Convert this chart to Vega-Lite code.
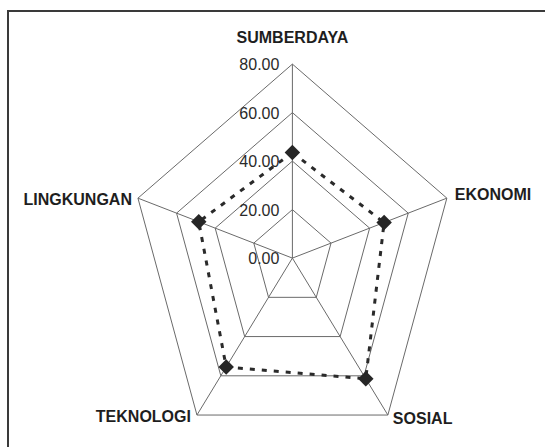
{
  "$schema": "https://vega.github.io/schema/vega-lite/v6.json",
  "width": 541,
  "height": 440,
  "autosize": {"type": "none"},
  "padding": {"left": 8, "top": 11, "right": -4, "bottom": -4},
  "background": "white",
  "config": {"view": {"stroke": "#3a3a3a", "strokeWidth": 2}},
  "datasets": {
    "scores": [
      {"aspek": "SUMBERDAYA", "urut": 0, "nilai": 43.5},
      {"aspek": "EKONOMI", "urut": 1, "nilai": 47.5},
      {"aspek": "SOSIAL", "urut": 2, "nilai": 61.5},
      {"aspek": "TEKNOLOGI", "urut": 3, "nilai": 55.5},
      {"aspek": "LINGKUNGAN", "urut": 4, "nilai": 48.5}
    ],
    "grid": [
      {"ring": 20, "urut": 0}, {"ring": 20, "urut": 1}, {"ring": 20, "urut": 2}, {"ring": 20, "urut": 3}, {"ring": 20, "urut": 4},
      {"ring": 40, "urut": 0}, {"ring": 40, "urut": 1}, {"ring": 40, "urut": 2}, {"ring": 40, "urut": 3}, {"ring": 40, "urut": 4},
      {"ring": 60, "urut": 0}, {"ring": 60, "urut": 1}, {"ring": 60, "urut": 2}, {"ring": 60, "urut": 3}, {"ring": 60, "urut": 4},
      {"ring": 80, "urut": 0}, {"ring": 80, "urut": 1}, {"ring": 80, "urut": 2}, {"ring": 80, "urut": 3}, {"ring": 80, "urut": 4}
    ],
    "ticks": [{"v": 0}, {"v": 20}, {"v": 40}, {"v": 60}, {"v": 80}]
  },
  "layer": [
    {
      "data": {"name": "grid"},
      "transform": [
        {"calculate": "datum.ring*sin(datum.urut*2*PI/5)", "as": "gx"},
        {"calculate": "datum.ring*cos(datum.urut*2*PI/5)", "as": "gy"}
      ],
      "mark": {"type": "line", "interpolate": "linear-closed", "color": "#6a6a6a", "strokeWidth": 1},
      "encoding": {
        "x": {"field": "gx", "type": "quantitative", "axis": null, "scale": {"domain": [-140.1, 126.4], "nice": false, "zero": false}},
        "y": {"field": "gy", "type": "quantitative", "axis": null, "scale": {"domain": [-79.55, 101.9], "nice": false, "zero": false}},
        "detail": {"field": "ring"},
        "order": {"field": "urut"}
      }
    },
    {
      "data": {"name": "scores"},
      "transform": [
        {"calculate": "80*sin(datum.urut*2*PI/5)", "as": "sx"},
        {"calculate": "80*cos(datum.urut*2*PI/5)", "as": "sy"}
      ],
      "mark": {"type": "rule", "color": "#6a6a6a", "strokeWidth": 1},
      "encoding": {
        "x": {"field": "sx", "type": "quantitative"},
        "y": {"field": "sy", "type": "quantitative"},
        "x2": {"datum": 0},
        "y2": {"datum": 0}
      }
    },
    {
      "data": {"name": "scores"},
      "transform": [
        {"calculate": "datum.nilai*sin(datum.urut*2*PI/5)", "as": "px"},
        {"calculate": "datum.nilai*cos(datum.urut*2*PI/5)", "as": "py"}
      ],
      "mark": {"type": "line", "interpolate": "linear-closed", "color": "#2a2a2a", "strokeWidth": 3, "strokeDash": [5, 7]},
      "encoding": {
        "x": {"field": "px", "type": "quantitative"},
        "y": {"field": "py", "type": "quantitative"},
        "order": {"field": "urut"}
      }
    },
    {
      "data": {"name": "scores"},
      "transform": [
        {"calculate": "datum.nilai*sin(datum.urut*2*PI/5)", "as": "px"},
        {"calculate": "datum.nilai*cos(datum.urut*2*PI/5)", "as": "py"}
      ],
      "mark": {"type": "point", "shape": "diamond", "filled": true, "size": 240, "color": "#262626", "opacity": 1},
      "encoding": {
        "x": {"field": "px", "type": "quantitative"},
        "y": {"field": "py", "type": "quantitative"}
      }
    },
    {
      "data": {"name": "ticks"},
      "mark": {"type": "text", "align": "right", "baseline": "middle", "dx": -13, "dy": 1, "fontSize": 16, "font": "Liberation Sans", "color": "#2a2a2a"},
      "encoding": {
        "x": {"datum": 0},
        "y": {"field": "v", "type": "quantitative"},
        "text": {"field": "v", "type": "quantitative", "format": ".2f"}
      }
    },
    {
      "data": {"name": "scores"},
      "transform": [
        {"filter": "datum.urut == 0"},
        {"calculate": "80*sin(datum.urut*2*PI/5)", "as": "sx"},
        {"calculate": "80*cos(datum.urut*2*PI/5)", "as": "sy"}
      ],
      "mark": {"type": "text", "align": "center", "baseline": "middle", "dy": -26, "fontSize": 16, "fontWeight": "bold", "font": "Liberation Sans", "color": "#1e1e1e"},
      "encoding": {
        "x": {"field": "sx", "type": "quantitative"},
        "y": {"field": "sy", "type": "quantitative"},
        "text": {"field": "aspek"}
      }
    },
    {
      "data": {"name": "scores"},
      "transform": [
        {"filter": "datum.urut == 1"},
        {"calculate": "80*sin(datum.urut*2*PI/5)", "as": "sx"},
        {"calculate": "80*cos(datum.urut*2*PI/5)", "as": "sy"}
      ],
      "mark": {"type": "text", "align": "left", "baseline": "middle", "dx": 8, "dy": -3, "fontSize": 16, "fontWeight": "bold", "font": "Liberation Sans", "color": "#1e1e1e"},
      "encoding": {
        "x": {"field": "sx", "type": "quantitative"},
        "y": {"field": "sy", "type": "quantitative"},
        "text": {"field": "aspek"}
      }
    },
    {
      "data": {"name": "scores"},
      "transform": [
        {"filter": "datum.urut == 2"},
        {"calculate": "80*sin(datum.urut*2*PI/5)", "as": "sx"},
        {"calculate": "80*cos(datum.urut*2*PI/5)", "as": "sy"}
      ],
      "mark": {"type": "text", "align": "left", "baseline": "middle", "dx": 5, "dy": 4, "fontSize": 16, "fontWeight": "bold", "font": "Liberation Sans", "color": "#1e1e1e"},
      "encoding": {
        "x": {"field": "sx", "type": "quantitative"},
        "y": {"field": "sy", "type": "quantitative"},
        "text": {"field": "aspek"}
      }
    },
    {
      "data": {"name": "scores"},
      "transform": [
        {"filter": "datum.urut == 3 || datum.urut == 4"},
        {"calculate": "80*sin(datum.urut*2*PI/5)", "as": "sx"},
        {"calculate": "80*cos(datum.urut*2*PI/5)", "as": "sy"}
      ],
      "mark": {"type": "text", "align": "right", "baseline": "middle", "dx": -6, "dy": 2, "fontSize": 16, "fontWeight": "bold", "font": "Liberation Sans", "color": "#1e1e1e"},
      "encoding": {
        "x": {"field": "sx", "type": "quantitative"},
        "y": {"field": "sy", "type": "quantitative"},
        "text": {"field": "aspek"}
      }
    }
  ]
}
